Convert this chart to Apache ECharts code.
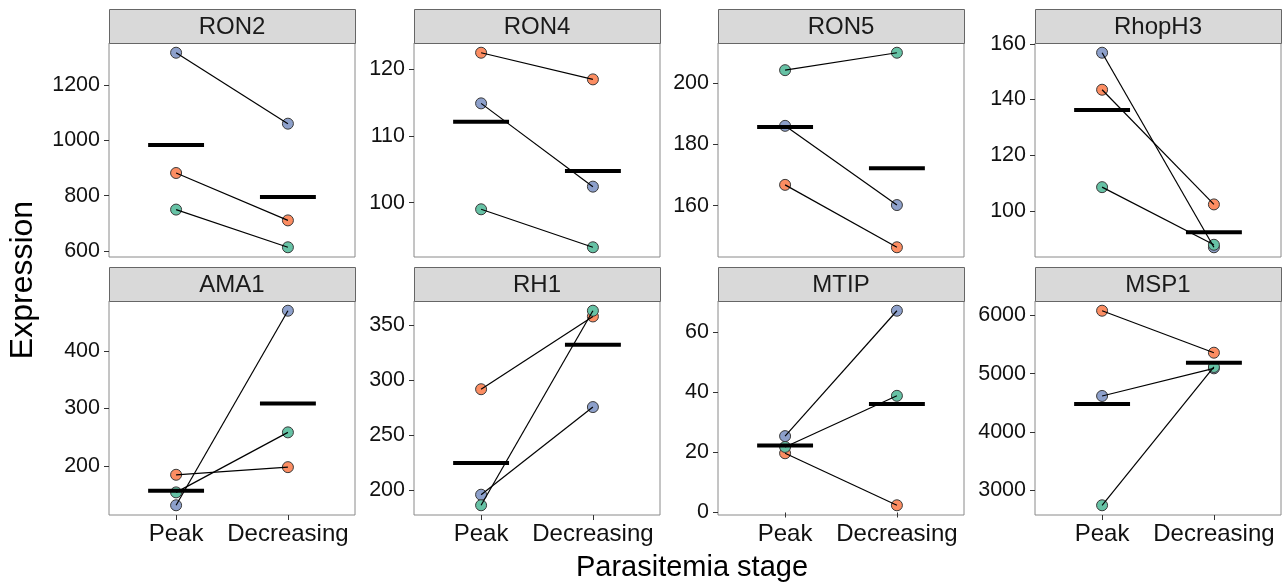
<!DOCTYPE html>
<html><head><meta charset="utf-8">
<script src="https://cdn.jsdelivr.net/npm/echarts@6/dist/echarts.min.js"></script>
<style>html,body{margin:0;padding:0;background:#fff}#c{width:1286px;height:588px}</style>
</head><body><div id="c"></div>
<script>
// ---- data ----
const genes = ['RON2', 'RON4', 'RON5', 'RhopH3', 'AMA1', 'RH1', 'MTIP', 'MSP1'];
const stages = ['Peak', 'Decreasing'];
const subjects = ['Subject 1', 'Subject 2', 'Subject 3'];
const subjectColors = ['#8DA0CB', '#FC8D62', '#66C2A5'];
// values per gene (same order as genes)
const s1Peak = [1316, 114.9, 186.1, 156.8, 131.2, 195.8, 25.4, 4618];
const s1Decr = [1060, 102.4, 160.2, 86.9, 470.6, 275.4, 67.1, 5092];
const s2Peak = [882, 122.5, 166.8, 143.5, 184.4, 291.6, 19.7, 6080];
const s2Decr = [711, 118.5, 146.4, 102.3, 197.7, 357.7, 2.4, 5360];
const s3Peak = [750, 99.0, 204.3, 108.5, 153.7, 186.2, 21.8, 2743];
const s3Decr = [614, 93.3, 210.0, 87.8, 258.4, 362.9, 38.8, 5115];
const yTicks = [
  [600, 800, 1000, 1200],
  [100, 110, 120],
  [160, 180, 200],
  [100, 120, 140, 160],
  [200, 300, 400],
  [200, 250, 300, 350],
  [0, 20, 40, 60],
  [3000, 4000, 5000, 6000]
];

// ---- layout ----
const FONT = '"Liberation Sans", Arial, Helvetica, sans-serif';
const colLeft = [109, 414, 718, 1035];
const panelW = 246;
const stripTop = [9, 267];
const stripH = 34;
const plotH = 214;

const peaks = [s1Peak, s2Peak, s3Peak];
const decrs = [s1Decr, s2Decr, s3Decr];

const grids = [], xAxes = [], yAxes = [], series = [], graphics = [];

genes.forEach((g, i) => {
  const row = Math.floor(i / 4), col = i % 4;
  const left = colLeft[col];
  const top = stripTop[row] + stripH;
  grids.push({left: left, top: top, width: panelW, height: plotH,
    show: true, borderColor: '#8a8a8a', borderWidth: 1, backgroundColor: '#fff'});
  const vals = [];
  for (let s = 0; s < 3; s++) { vals.push(peaks[s][i], decrs[s][i]); }
  const lo = Math.min(...vals), hi = Math.max(...vals);
  const pad = (hi - lo) * 0.05;
  xAxes.push({
    gridIndex: i, type: 'value', min: 0.4, max: 2.6,
    axisLine: {show: false},
    splitLine: {show: false},
    axisTick: {show: row === 1, customValues: [1, 2], length: 5, lineStyle: {color: '#333'}},
    axisLabel: {show: row === 1, customValues: [1, 2], margin: 7,
      formatter: v => stages[Math.round(v) - 1] || '',
      fontSize: 24, color: '#111', fontFamily: FONT}
  });
  yAxes.push({
    gridIndex: i, type: 'value', min: lo - pad, max: hi + pad,
    axisLine: {show: false},
    splitLine: {show: false},
    axisTick: {show: true, customValues: yTicks[i], length: 5, lineStyle: {color: '#333'}},
    axisLabel: {show: true, customValues: yTicks[i], margin: 9,
      formatter: v => String(v),
      fontSize: 21.5, color: '#111', fontFamily: FONT}
  });
  // points
  for (let s = 0; s < 3; s++) {
    series.push({
      type: 'scatter', xAxisIndex: i, yAxisIndex: i, name: subjects[s],
      data: [[1, peaks[s][i]], [2, decrs[s][i]]],
      symbolSize: 11, z: 2,
      itemStyle: {color: subjectColors[s], borderColor: '#3a3a3a', borderWidth: 1, opacity: 1}
    });
  }
  // connecting lines
  for (let s = 0; s < 3; s++) {
    series.push({
      type: 'line', xAxisIndex: i, yAxisIndex: i,
      data: [[1, peaks[s][i]], [2, decrs[s][i]]],
      symbol: 'none', z: 3, silent: true,
      lineStyle: {color: '#000', width: 1.2}
    });
  }
  // mean bars
  const mP = (s1Peak[i] + s2Peak[i] + s3Peak[i]) / 3;
  const mD = (s1Decr[i] + s2Decr[i] + s3Decr[i]) / 3;
  [[1, mP], [2, mD]].forEach(([x, m]) => {
    series.push({
      type: 'line', xAxisIndex: i, yAxisIndex: i,
      data: [[x - 0.25, m], [x + 0.25, m]],
      symbol: 'none', z: 4, silent: true,
      lineStyle: {color: '#000', width: 4, cap: 'butt'}
    });
  });
  // strip
  graphics.push({
    type: 'rect', z: 10,
    shape: {x: left + 0.5, y: stripTop[row] + 0.5, width: panelW, height: stripH},
    style: {fill: '#D9D9D9', stroke: '#666', lineWidth: 1}
  });
  graphics.push({
    type: 'text', z: 11,
    x: left + panelW / 2, y: stripTop[row] + stripH / 2 + 1,
    style: {text: g, fill: '#1a1a1a', font: '24px ' + FONT, textAlign: 'center', textVerticalAlign: 'middle'}
  });
});

graphics.push({
  type: 'text', z: 11, x: 23, y: 280, rotation: Math.PI / 2,
  style: {text: 'Expression', fill: '#000', font: '32px ' + FONT, textAlign: 'center', textVerticalAlign: 'middle'}
});
graphics.push({
  type: 'text', z: 11, x: 692, y: 568,
  style: {text: 'Parasitemia stage', fill: '#000', font: '29px ' + FONT, textAlign: 'center', textVerticalAlign: 'middle'}
});

const chart = echarts.init(document.getElementById('c'), null, {renderer: 'canvas'});
chart.setOption({
  animation: false,
  backgroundColor: '#fff',
  grid: grids, xAxis: xAxes, yAxis: yAxes, series: series, graphic: graphics
});
</script></body></html>
